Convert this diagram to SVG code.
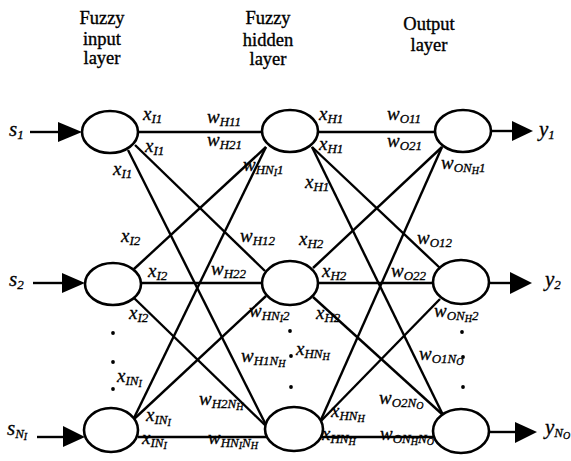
<svg xmlns="http://www.w3.org/2000/svg" width="571" height="461" viewBox="0 0 571 461">
<style>
.h{font-family:"Liberation Serif",serif;font-size:18.5px;fill:#000;stroke:#000;stroke-width:0.35;text-anchor:middle}
.m{font-family:"Liberation Serif",serif;font-style:italic;font-size:19px;fill:#000;stroke:#000;stroke-width:0.3}
.b{font-size:21px}
.s{font-size:13px}
.ss{font-size:10px}
.c line{stroke:#000;stroke-width:2.4}
.n ellipse{fill:#fff;stroke:#000;stroke-width:2.6}
.ar{fill:#000}
.d{fill:#000}
</style>
<rect width="571" height="461" fill="#fff"/>
<g id="headers">
<text class="h" x="102" y="24">Fuzzy</text><text class="h" x="102" y="45">input</text><text class="h" x="102" y="64">layer</text>
<text class="h" x="268" y="24">Fuzzy</text><text class="h" x="268" y="46">hidden</text><text class="h" x="268" y="65">layer</text>
<text class="h" x="429" y="30">Output</text><text class="h" x="429" y="51">layer</text>
</g>
<g id="connectors" class="c">
<line x1="138" y1="132" x2="262" y2="132"/>
<line x1="135" y1="145" x2="265" y2="271"/>
<line x1="128" y1="150" x2="267" y2="427"/>
<line x1="134" y1="269" x2="266" y2="147"/>
<line x1="141" y1="283" x2="263" y2="283"/>
<line x1="134" y1="298" x2="267" y2="427"/>
<line x1="133" y1="420" x2="266" y2="147"/>
<line x1="133" y1="420" x2="266" y2="296"/>
<line x1="138" y1="437" x2="266" y2="437"/>
<line x1="318" y1="132" x2="435" y2="132"/>
<line x1="312" y1="147" x2="440" y2="268"/>
<line x1="312" y1="147" x2="443" y2="415"/>
<line x1="313" y1="268" x2="442" y2="147"/>
<line x1="318" y1="283" x2="433" y2="283"/>
<line x1="313" y1="297" x2="443" y2="415"/>
<line x1="320" y1="422" x2="442" y2="147"/>
<line x1="320" y1="422" x2="440" y2="299"/>
<line x1="322" y1="437" x2="434" y2="437"/>
<line x1="30" y1="132" x2="60" y2="132"/>
<line x1="33" y1="283" x2="64" y2="283"/>
<line x1="37" y1="437" x2="65" y2="437"/>
<line x1="491" y1="131" x2="514" y2="131"/>
<line x1="490" y1="283" x2="512" y2="283"/>
<line x1="488" y1="432" x2="517" y2="432"/>
<polygon class="ar" points="58,122 82,132 58,142"/>
<polygon class="ar" points="62,273 85,283 62,293"/>
<polygon class="ar" points="63,426 85,437 63,447"/>
<polygon class="ar" points="512,121 533,131 512,141"/>
<polygon class="ar" points="510,272 532,283 510,294"/>
<polygon class="ar" points="515,422 537,432 515,443"/>
</g>
<g id="nodes" class="n">
<g id="input1"><ellipse cx="110" cy="132" rx="28" ry="21"/></g>
<g id="input2"><ellipse cx="113" cy="284" rx="28" ry="21"/></g>
<g id="input3"><ellipse cx="111" cy="430" rx="27" ry="22"/></g>
<g id="hidden1"><ellipse cx="290" cy="131" rx="28" ry="21"/></g>
<g id="hidden2"><ellipse cx="290" cy="283" rx="28" ry="22"/></g>
<g id="hidden3"><ellipse cx="294" cy="429" rx="29" ry="22"/></g>
<g id="output1"><ellipse cx="463" cy="131" rx="28" ry="21"/></g>
<g id="output2"><ellipse cx="461" cy="282" rx="28" ry="22"/></g>
<g id="output3"><ellipse cx="461" cy="431" rx="28" ry="22"/></g>
</g>
<g id="dots" class="d">
<circle cx="113" cy="333" r="1.9"/><circle cx="113" cy="362" r="1.9"/><circle cx="113" cy="389" r="1.9"/>
<circle cx="290" cy="331" r="1.9"/><circle cx="291" cy="356" r="1.9"/><circle cx="291" cy="387" r="1.9"/>
<circle cx="462" cy="332" r="1.9"/><circle cx="463" cy="357" r="1.9"/><circle cx="463" cy="387" r="1.9"/>
</g>
<g id="labels">
<text class="m b" x="9" y="136">s<tspan class="s" dy="3">1</tspan></text>
<text class="m b" x="9" y="286">s<tspan class="s" dy="3">2</tspan></text>
<text class="m b" x="7" y="435">s<tspan class="s" dy="3">N</tspan><tspan class="ss" dy="2">I</tspan></text>
<text class="m b" x="539" y="136">y<tspan class="s" dy="3">1</tspan></text>
<text class="m b" x="545" y="286">y<tspan class="s" dy="3">2</tspan></text>
<text class="m b" x="545" y="434">y<tspan class="s" dy="3">N</tspan><tspan class="ss" dy="2">O</tspan></text>

<text class="m" x="143" y="120">x<tspan class="s" dy="3">I1</tspan></text>
<text class="m" x="145" y="152">x<tspan class="s" dy="3">I1</tspan></text>
<text class="m" x="113" y="175">x<tspan class="s" dy="3">I1</tspan></text>
<text class="m" x="207" y="123">w<tspan class="s" dy="3">H11</tspan></text>
<text class="m" x="207" y="146">w<tspan class="s" dy="3">H21</tspan></text>
<text class="m" x="243" y="171">w<tspan class="s" dy="3">HN</tspan><tspan class="ss" dy="2">I</tspan><tspan class="s" dy="-2">1</tspan></text>
<text class="m" x="319" y="120">x<tspan class="s" dy="3">H1</tspan></text>
<text class="m" x="319" y="150">x<tspan class="s" dy="3">H1</tspan></text>
<text class="m" x="305" y="188">x<tspan class="s" dy="3">H1</tspan></text>
<text class="m" x="387" y="120">w<tspan class="s" dy="3">O11</tspan></text>
<text class="m" x="387" y="147">w<tspan class="s" dy="3">O21</tspan></text>
<text class="m" x="441" y="169">w<tspan class="s" dy="3">ON</tspan><tspan class="ss" dy="2">H</tspan><tspan class="s" dy="-2">1</tspan></text>

<text class="m" x="121" y="242">x<tspan class="s" dy="3">I2</tspan></text>
<text class="m" x="148" y="277">x<tspan class="s" dy="3">I2</tspan></text>
<text class="m" x="129" y="319">x<tspan class="s" dy="3">I2</tspan></text>
<text class="m" x="240" y="242">w<tspan class="s" dy="3">H12</tspan></text>
<text class="m" x="211" y="275">w<tspan class="s" dy="3">H22</tspan></text>
<text class="m" x="249" y="317">w<tspan class="s" dy="3">HN</tspan><tspan class="ss" dy="2">I</tspan><tspan class="s" dy="-2">2</tspan></text>
<text class="m" x="299" y="245">x<tspan class="s" dy="3">H2</tspan></text>
<text class="m" x="322" y="277">x<tspan class="s" dy="3">H2</tspan></text>
<text class="m" x="316" y="319">x<tspan class="s" dy="3">H2</tspan></text>
<text class="m" x="417" y="244">w<tspan class="s" dy="3">O12</tspan></text>
<text class="m" x="391" y="277">w<tspan class="s" dy="3">O22</tspan></text>
<text class="m" x="434" y="317">w<tspan class="s" dy="3">ON</tspan><tspan class="ss" dy="2">H</tspan><tspan class="s" dy="-2">2</tspan></text>

<text class="m" x="117" y="382">x<tspan class="s" dy="3">IN</tspan><tspan class="ss" dy="2">I</tspan></text>
<text class="m" x="146" y="421">x<tspan class="s" dy="3">IN</tspan><tspan class="ss" dy="2">I</tspan></text>
<text class="m" x="142" y="444">x<tspan class="s" dy="3">IN</tspan><tspan class="ss" dy="2">I</tspan></text>
<text class="m" x="241" y="362">w<tspan class="s" dy="3">H1N</tspan><tspan class="ss" dy="2">H</tspan></text>
<text class="m" x="199" y="405">w<tspan class="s" dy="3">H2N</tspan><tspan class="ss" dy="2">H</tspan></text>
<text class="m" x="208" y="444">w<tspan class="s" dy="3">HN</tspan><tspan class="ss" dy="2">I</tspan><tspan class="s" dy="-2">N</tspan><tspan class="ss" dy="2">H</tspan></text>
<text class="m" x="296" y="355">x<tspan class="s" dy="3">HN</tspan><tspan class="ss" dy="2">H</tspan></text>
<text class="m" x="331" y="417">x<tspan class="s" dy="3">HN</tspan><tspan class="ss" dy="2">H</tspan></text>
<text class="m" x="322" y="440">x<tspan class="s" dy="3">HN</tspan><tspan class="ss" dy="2">H</tspan></text>
<text class="m" x="419" y="360">w<tspan class="s" dy="3">O1N</tspan><tspan class="ss" dy="2">O</tspan></text>
<text class="m" x="379" y="404">w<tspan class="s" dy="3">O2N</tspan><tspan class="ss" dy="2">O</tspan></text>
<text class="m" x="380" y="440">w<tspan class="s" dy="3">ON</tspan><tspan class="ss" dy="2">H</tspan><tspan class="s" dy="-2">N</tspan><tspan class="ss" dy="2">O</tspan></text>
</g>
</svg>
